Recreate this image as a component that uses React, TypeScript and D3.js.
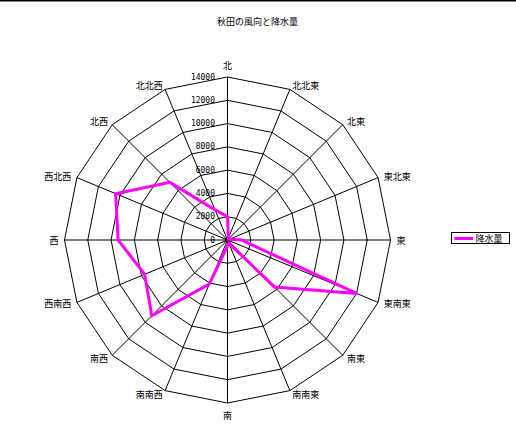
import React from "react";
import * as d3 from "d3";

const directions = ["北", "北北東", "北東", "東北東", "東", "東南東", "南東", "南南東", "南", "南南西", "南西", "西南西", "西", "西北西", "北西", "北北西"];
const rainfall = [2000, 200, 100, 200, 1200, 12000, 5700, 300, 500, 4100, 9200, 7700, 9400, 10400, 7000, 2800];
const ticks = [0, 2000, 4000, 6000, 8000, 10000, 12000, 14000];
const title = "秋田の風向と降水量";
const seriesName = "降水量";

const W = 516, H = 445;
const cx = 227.5, cy = 240, R = 163;
const jp = "'Noto Sans CJK JP', 'Noto Sans', sans-serif";

export default function App() {
  const r = d3.scaleLinear().domain([0, 14000]).range([0, R]);
  const n = directions.length;
  const ang = (i: number) => (i * 2 * Math.PI) / n;
  const pt = (i: number, v: number): [number, number] => [cx + Math.sin(ang(i)) * r(v), cy - Math.cos(ang(i)) * r(v)];

  const ringLine = d3.line<number>().x((_, i) => pt(i, 0)[0]).y((_, i) => pt(i, 0)[1]);
  const rings = ticks.filter((t) => t > 0).map((t) => {
    const pts = directions.map((_, i) => pt(i, t));
    return d3.line().curve(d3.curveLinearClosed)(pts) as string;
  });
  void ringLine;
  const dataPath = d3.line().curve(d3.curveLinearClosed)(rainfall.map((v, i) => pt(i, v))) as string;

  return (
    <svg width={W} height={H} style={{ position: "absolute", left: 0, top: 0, background: "#fff" }}>
      <line x1={0} x2={W} y1={0.75} y2={0.75} stroke="#000" strokeWidth={1.5} />
      <text x={257.5} y={21.7} textAnchor="middle" dominantBaseline="central" fontFamily={jp} fontSize={9}>{title}</text>
      <g fill="none" stroke="#000" strokeWidth={1}>
        {rings.map((d, i) => <path key={i} d={d} />)}
        {directions.map((_, i) => {
          const [x, y] = pt(i, 14000);
          return <line key={i} x1={cx} y1={cy} x2={x} y2={y} />;
        })}
      </g>
      <circle cx={cx} cy={cy} r={2.5} fill="#000" />
      {ticks.map((t) => (
        <text key={t} x={215} y={cy - r(t)} textAnchor="end" dominantBaseline="central" fontFamily="'DejaVu Sans Mono', monospace" fontSize={8}>{t}</text>
      ))}
      {directions.map((d, i) => {
        const s = Math.sin(ang(i)), c = Math.cos(ang(i));
        const [vx, vy] = pt(i, 14000);
        const anchor = s > 0.1 ? "start" : s < -0.1 ? "end" : "middle";
        const pole = Math.abs(s) < 0.1 ? 8 : 0;
        const x = vx + s * 6;
        const y = vy - c * (4 + pole);
        return (
          <text key={d} x={x} y={y} textAnchor={anchor} dominantBaseline="central" fontFamily={jp} fontSize={9}>{d}</text>
        );
      })}
      <path d={dataPath} fill="none" stroke="#FF00FF" strokeWidth={3} strokeLinejoin="miter" />
      <rect x={451.5} y={232.5} width={58} height={11} fill="#fff" stroke="#000" strokeWidth={1} />
      <line x1={454.5} x2={473} y1={238.5} y2={238.5} stroke="#FF00FF" strokeWidth={3} />
      <text x={475.5} y={238.3} dominantBaseline="central" fontFamily={jp} fontSize={9}>{seriesName}</text>
    </svg>
  );
}
